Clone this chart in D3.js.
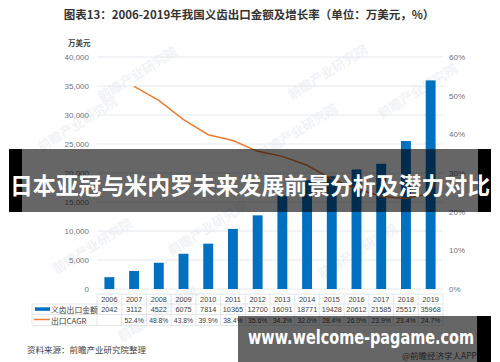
<!DOCTYPE html>
<html>
<head>
<meta charset="utf-8">
<script src="https://cdn.jsdelivr.net/npm/d3@7"></script>
<style>
  body { margin: 0; background: #fff; }
  svg { display: block; font-family: "Liberation Sans", "Noto Sans CJK SC", sans-serif; }
  .cjk { font-family: "Noto Sans CJK SC", sans-serif; }
</style>
</head>
<body>
<div class="chart"></div>
<script>
// data
const years = ["2006","2007","2008","2009","2010","2011","2012","2013","2014","2015","2016","2017","2018","2019"];
const exportValues = [2042, 3112, 4522, 6075, 7814, 10365, 12700, 16091, 18771, 19428, 20612, 21585, 25517, 35968];
const cagrYears = ["2007","2008","2009","2010","2011","2012","2013","2014","2015","2016","2017","2018","2019"];
const cagrValues = [52.4, 48.8, 43.8, 39.9, 38.4, 35.6, 34.3, 32.0, 28.4, 26.0, 23.9, 23.4, 24.7];
const leftTicks = [0, 5000, 10000, 15000, 20000, 25000, 30000, 35000, 40000];
const rightTicks = [0, 10, 20, 30, 40, 50, 60];

const width = 500, height = 362;
const blue = "#0070c0", orange = "#ed7d31";

const svg = d3.select(".chart").append("svg")
    .attr("width", width)
    .attr("height", height);

const xScale = d3.scaleBand()
    .domain(years)
    .range([97, 443])
    .paddingInner(0.6)
    .paddingOuter(0.3);
const yLeft = d3.scaleLinear().domain([0, 40000]).range([289, 57]);
const yRight = d3.scaleLinear().domain([0, 60]).range([289, 57]);

// faint watermarks
const marks = [[80,128],[140,78],[330,76],[300,135],[95,250],[210,232],[420,95],[360,255],[160,318]];
svg.selectAll(".wm")
    .data(marks)
    .enter()
    .append("text")
    .attr("class","wm cjk")
    .attr("transform", d=>`translate(${d[0]},${d[1]}) rotate(-32)`)
    .attr("text-anchor","middle")
    .attr("font-size", 13)
    .attr("font-weight","bold")
    .attr("fill", "#f1f3f6")
    .text("前瞻产业研究院");

// title
svg.append("text")
    .attr("class","cjk")
    .attr("x", 249).attr("y", 14)
    .attr("text-anchor","middle")
    .attr("dominant-baseline","central")
    .attr("font-size", 11.5)
    .attr("font-weight","bold")
    .attr("fill","#333")
    .text("图表13：2006-2019年我国义齿出口金额及增长率（单位：万美元，%）");

svg.append("text")
    .attr("class","cjk")
    .attr("x", 68).attr("y", 42)
    .attr("dominant-baseline","central")
    .attr("font-size", 7.5)
    .attr("font-weight","bold")
    .attr("fill","#444")
    .text("万美元");

// grid
svg.selectAll(".grid")
    .data(leftTicks)
    .enter()
    .append("line")
    .attr("class","grid")
    .attr("x1", 97).attr("x2", 443)
    .attr("y1", d=>yLeft(d)).attr("y2", d=>yLeft(d))
    .attr("stroke", "#e4e8ef")
    .attr("stroke-width", 1);

// left axis
const yAxisL = d3.axisLeft(yLeft).tickValues(leftTicks).tickSize(0).tickPadding(0).tickFormat(d3.format(","));
const gl = svg.append("g")
    .attr("class","axis y-axis")
    .attr("transform","translate(89,0)")
    .call(yAxisL);
gl.select(".domain").remove();
gl.selectAll("text").attr("font-size", 8).attr("fill", "#6f7480").attr("font-family","Liberation Sans");

// right axis
const yAxisR = d3.axisRight(yRight).tickValues(rightTicks).tickSize(0).tickPadding(0).tickFormat(d=>d+"%");
const gr = svg.append("g")
    .attr("class","axis y-axis-r")
    .attr("transform","translate(449,0)")
    .call(yAxisR);
gr.select(".domain").remove();
gr.selectAll("text").attr("font-size", 8).attr("fill", "#6f7480").attr("font-family","Liberation Sans");

// bars
svg.selectAll(".bar")
    .data(years)
    .enter()
    .append("rect")
    .attr("class","bar")
    .attr("x", d=>xScale(d))
    .attr("width", xScale.bandwidth())
    .attr("y", (d,i)=>yLeft(exportValues[i]))
    .attr("height", (d,i)=>yLeft(0)-yLeft(exportValues[i]))
    .attr("fill", blue);

// line
const line = d3.line()
    .x(d=>xScale(d[0]) + xScale.bandwidth()/2)
    .y(d=>yRight(d[1]));
svg.append("path")
    .datum(cagrYears.map((y,i)=>[y, cagrValues[i]]))
    .attr("d", line)
    .attr("fill","none")
    .attr("stroke", orange)
    .attr("stroke-width", 1.5);

// data table
const rowLines = [294, 304, 314.5, 325.5];
const tableLeft = 32, tableRight = 443;
const colStart = 97;
const borders = svg.append("g").attr("stroke","#dcdfe5").attr("stroke-width",0.8);
borders.append("line").attr("x1",colStart).attr("x2",tableRight).attr("y1",rowLines[0]).attr("y2",rowLines[0]);
rowLines.slice(1).forEach(y=>{
    borders.append("line").attr("x1",tableLeft).attr("x2",tableRight).attr("y1",y).attr("y2",y);
});
borders.append("line").attr("x1",tableLeft).attr("x2",tableLeft).attr("y1",rowLines[1]).attr("y2",rowLines[3]);
d3.range(years.length + 1).forEach(i=>{
    const x = colStart + i*(tableRight-colStart)/years.length;
    borders.append("line").attr("x1",x).attr("x2",x).attr("y1",rowLines[0]).attr("y2",rowLines[3]);
});
const colW = (tableRight-colStart)/years.length;
const colX = i => colStart + colW*(i+0.5);

svg.selectAll(".yr")
    .data(years).enter().append("text")
    .attr("x",(d,i)=>colX(i)).attr("y",299.5)
    .attr("text-anchor","middle").attr("dominant-baseline","central")
    .attr("font-size",7.3).attr("fill","#404040")
    .text(d=>d);
svg.selectAll(".val")
    .data(exportValues).enter().append("text")
    .attr("x",(d,i)=>colX(i)).attr("y",309.5)
    .attr("text-anchor","middle").attr("dominant-baseline","central")
    .attr("font-size",7.3).attr("fill","#404040")
    .text(d=>d);
svg.selectAll(".cagr")
    .data(cagrValues).enter().append("text")
    .attr("x",(d,i)=>colX(years.indexOf(cagrYears[i]))).attr("y",320.3)
    .attr("text-anchor","middle").attr("dominant-baseline","central")
    .attr("font-size",6.8).attr("fill","#404040")
    .text(d=>d.toFixed(1)+"%");

// legend in table
svg.append("rect").attr("x",35).attr("y",307.3).attr("width",15).attr("height",3.5).attr("fill",blue);
svg.append("text").attr("class","cjk").attr("x",51).attr("y",309.3)
    .attr("dominant-baseline","central").attr("font-size",7.8).attr("fill","#404040").text("义齿出口金额");
svg.append("line").attr("x1",34).attr("x2",50).attr("y1",319.5).attr("y2",319.5).attr("stroke",orange).attr("stroke-width",1.5);
svg.append("text").attr("class","cjk").attr("x",51).attr("y",320)
    .attr("dominant-baseline","central").attr("font-size",7.8).attr("fill","#404040").text("出口CAGR");

// source
svg.append("text").attr("class","cjk").attr("x",27).attr("y",349)
    .attr("dominant-baseline","central").attr("font-size",8.5).attr("fill","#444")
    .text("资料来源：前瞻产业研究院整理");
svg.append("text").attr("class","cjk").attr("x",477).attr("y",354.5)
    .attr("text-anchor","end").attr("dominant-baseline","central").attr("font-size",8.5).attr("fill","#555")
    .text("@前瞻经济学人APP");

// overlay banner
svg.append("rect").attr("x",22).attr("y",149).attr("width",456).attr("height",63).attr("fill","rgba(0,0,0,0.6)");
svg.append("rect").attr("x",9).attr("y",149).attr("width",13).attr("height",63).attr("fill","#000");
svg.append("rect").attr("x",478).attr("y",149).attr("width",13).attr("height",63).attr("fill","#000");
svg.append("text").attr("class","cjk")
    .attr("x",250).attr("y",184)
    .attr("text-anchor","middle").attr("dominant-baseline","central")
    .attr("font-size",23).attr("font-weight","bold").attr("fill","#fff")
    .attr("textLength",480).attr("lengthAdjust","spacingAndGlyphs")
    .text("日本亚冠与米内罗未来发展前景分析及潜力对比");

// bottom banner
svg.append("rect").attr("x",238).attr("y",316).attr("width",239).attr("height",46).attr("fill","rgba(0,0,0,0.6)");
svg.append("rect").attr("x",477).attr("y",316).attr("width",14).attr("height",46).attr("fill","#000");
svg.append("text")
    .attr("x",248).attr("y",337)
    .attr("dominant-baseline","central")
    .attr("font-family","DejaVu Sans")
    .attr("font-size",19).attr("font-weight","bold").attr("fill","#fff")
    .attr("textLength",226).attr("lengthAdjust","spacingAndGlyphs")
    .text("www.welcome-pagame.com");
</script>
</body>
</html>
